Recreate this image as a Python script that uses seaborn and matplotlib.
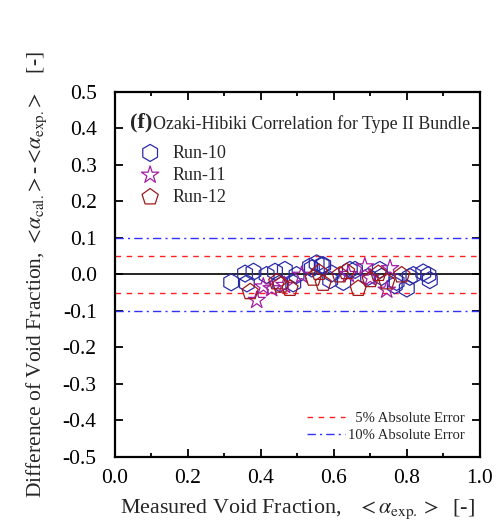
import numpy as np
import pandas as pd
import matplotlib
matplotlib.use("Agg")
import matplotlib.pyplot as plt
from matplotlib.lines import Line2D
from matplotlib.ticker import MultipleLocator
import seaborn as sns

# ---- data ----
run10_x = [0.319, 0.357, 0.380, 0.362, 0.416, 0.439, 0.466, 0.498, 0.535, 0.553,
           0.453, 0.489, 0.567, 0.540, 0.594, 0.626, 0.571, 0.590, 0.644, 0.658,
           0.694, 0.726, 0.731, 0.767, 0.772, 0.800, 0.808, 0.818, 0.859, 0.863, 0.845]
run10_y = [-0.022, 0.002, 0.007, -0.025, -0.002, 0.007, 0.012, -0.002, 0.021, 0.030,
           -0.025, -0.025, 0.025, 0.016, 0.002, -0.021, 0.025, -0.016, 0.012, 0.012,
           -0.007, 0.012, -0.007, -0.030, -0.021, -0.039, -0.007, -0.002, -0.002, -0.016, 0.005]
run11_x = [0.389, 0.407, 0.430, 0.512, 0.685, 0.754, 0.745, 0.465, 0.640, 0.700]
run11_y = [-0.071, -0.034, -0.039, -0.002, 0.021, 0.016, -0.043, -0.030, 0.000, -0.010]
run12_x = [0.371, 0.444, 0.480, 0.544, 0.571, 0.617, 0.635, 0.667, 0.722, 0.745,
           0.786, 0.455, 0.560, 0.700]
run12_y = [-0.048, -0.021, -0.039, -0.011, -0.025, -0.002, 0.007, -0.039, 0.002, -0.021,
           -0.002, -0.030, 0.005, -0.015]
run_names = ["Run-10", "Run-11", "Run-12"]
run_colors = ["#2b2ba8", "#a21ea2", "#9e1a1a"]
run_markers = ["h", "*", "p"]
xticks = [0.0, 0.2, 0.4, 0.6, 0.8, 1.0]
yticks = [0.5, 0.4, 0.3, 0.2, 0.1, 0.0, -0.1, -0.2, -0.3, -0.4, -0.5]

sns.set_style("ticks")
plt.rcParams["font.family"] = ["Liberation Serif", "DejaVu Serif"]
plt.rcParams["mathtext.fontset"] = "stix"

fig = plt.figure(figsize=(5.03, 5.28), dpi=100)
ax = fig.add_axes([0.228, 0.135, 0.726, 0.691])

frames = []
for name, xs, ys in zip(run_names, [run10_x, run11_x, run12_x], [run10_y, run11_y, run12_y]):
    frames.append(pd.DataFrame({"x": xs, "y": ys, "run": name}))
df = pd.concat(frames, ignore_index=True)

sizes = {"Run-10": 150, "Run-11": 170, "Run-12": 150}
for name, col, mk in zip(run_names, run_colors, run_markers):
    sub = df[df["run"] == name]
    sns.scatterplot(data=sub, x="x", y="y", ax=ax, marker=mk, s=sizes[name],
                    color=col, facecolors="none", edgecolor=col, linewidth=0.9,
                    label=name, zorder=3)

# error bands
ax.axhline(0.0, color="black", lw=1.2, zorder=2)
ax.axhline(0.05, color="#ff2020", lw=1.0, ls=(0, (4, 4)), zorder=1)
ax.axhline(-0.05, color="#ff2020", lw=1.0, ls=(0, (4, 4)), zorder=1)
ax.axhline(0.1, color="#3030ff", lw=1.0, ls=(0, (6, 3, 1.5, 3)), zorder=1)
ax.axhline(-0.1, color="#3030ff", lw=1.0, ls=(0, (6, 3, 1.5, 3)), zorder=1)

ax.set_xlim(0.0, 1.0)
ax.set_ylim(-0.5, 0.5)
ax.set_xticks(xticks)
ax.set_yticks(yticks)
ax.set_xticklabels([f"{v:.1f}" for v in xticks])
ax.set_yticklabels([f"{v:.1f}" for v in yticks])
ax.xaxis.set_minor_locator(MultipleLocator(0.1))
ax.tick_params(which="both", direction="in", top=True, right=True, labelsize=15.5,
               width=1.3, colors="black")
ax.tick_params(which="major", length=6)
ax.tick_params(which="minor", length=3)
ax.tick_params(axis="x", pad=9)
ax.tick_params(axis="y", pad=13)
for sp in ax.spines.values():
    sp.set_linewidth(1.6)
    sp.set_color("black")

ax.set_xlabel(r"Measured Void Fraction,   $<\alpha_{\rm exp.}>$  [-]", fontsize=15.8, labelpad=7)
ax.set_ylabel(r"Difference of Void Fraction, $<\!\alpha_{\rm cal.}\!>$-$<\!\alpha_{\rm exp.}\!>$   [-]",
              fontsize=15.5, labelpad=10)

# title text inside
ax.text(0.042, 0.915, "(f)", transform=ax.transAxes, fontsize=16, fontweight="bold",
        va="center", ha="left")
ax.text(0.104, 0.913, "Ozaki-Hibiki Correlation for Type II Bundle", transform=ax.transAxes,
        fontsize=12.9, va="center", ha="left")

# legends
leg1 = ax.legend(loc="upper left", bbox_to_anchor=(0.018, 0.885), frameon=False, fontsize=13,
                 handletextpad=0.25, labelspacing=0.28, borderaxespad=0.2)
ax.add_artist(leg1)
err_handles = [Line2D([], [], color="#ff2020", lw=1.0, ls=(0, (4, 4))),
               Line2D([], [], color="#3030ff", lw=1.0, ls=(0, (6, 3, 1.5, 3)))]
ax.legend(err_handles, ["  5% Absolute Error", "10% Absolute Error"], loc="lower right",
          bbox_to_anchor=(0.995, 0.005), frameon=False, fontsize=10.5, handlelength=2.6,
          handletextpad=0.2, labelspacing=0.25)

fig.savefig("out.png", dpi=100)
